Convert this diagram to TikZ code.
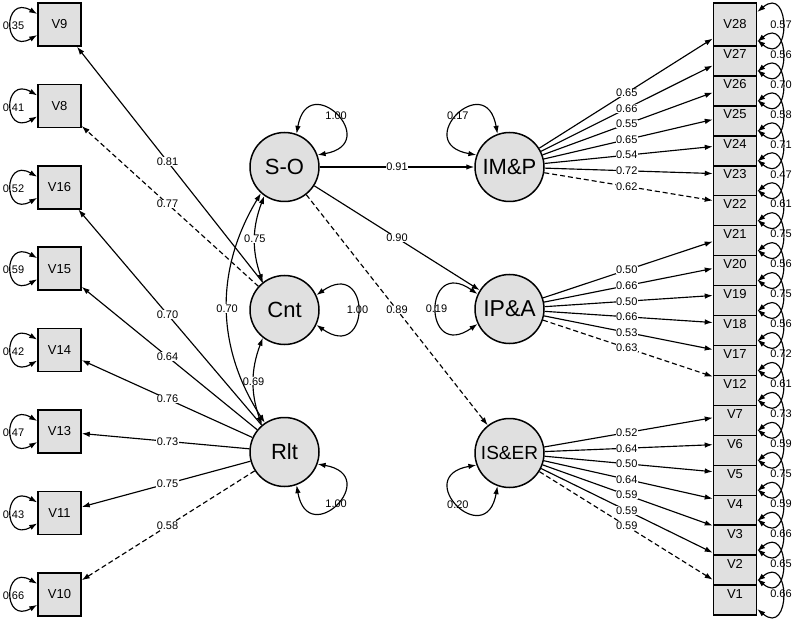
\documentclass[tikz,border=0pt]{standalone}
\usepackage{fontspec}
\setmainfont{Liberation Sans}
\usetikzlibrary{arrows.meta,calc}
\definecolor{nodefill}{RGB}{224,224,224}
\begin{document}
\begin{tikzpicture}[x=1pt,y=1pt,
  obs/.style={draw, line width=1.5pt, fill=nodefill, minimum width=43pt, minimum height=43pt, inner sep=0pt, font=\fontsize{13}{15}\selectfont},
  lat/.style={circle, draw, line width=1.5pt, fill=nodefill, minimum size=69pt, inner sep=0pt, font=\fontsize{22}{24}\selectfont},
  tipA/.tip={Latex[length=8pt,width=5.5pt]},
  load/.style={-tipA, line width=1.15pt},
  cov/.style={tipA-tipA, line width=1.15pt},
  dsh/.style={dash pattern=on 5pt off 3pt},
  elab/.style={fill=white, inner sep=0.3pt, font=\fontsize{11}{12}\selectfont},
  vlab/.style={inner sep=0pt, font=\fontsize{11}{12}\selectfont},
]
\useasboundingbox (0,0) rectangle (794,619);

% left indicators
\foreach \n/\y in {V9/594.5, V8/513.1, V16/431.7, V15/350.3, V14/268.9, V13/187.5, V11/106.1, V10/24.7}
  \node[obs] (\n) at (59.5,\y) {\n};

% right indicators (drawn bottom first so upper boxes overlap lower ones)
\foreach \n [count=\i] in {V1,V2,V3,V4,V5,V6,V7,V12,V17,V18,V19,V20,V21,V22,V23,V24,V25,V26,V27,V28}
  \node[obs] (\n) at (735,{594.5-29.95*(20-\i)}) {\n};

% latent variables
\node[lat] (SO) at (284.5,452) {S-O};
\node[lat] (Cnt) at (284.5,309) {Cnt};
\node[lat] (Rlt) at (284.5,167) {Rlt};
\node[lat] (IMP) at (509.5,452) {IM\&P};
\node[lat, font=\fontsize{23}{25}\selectfont] (IPA) at (509.5,310) {IP\&A};
\node[lat, font=\fontsize{19}{21}\selectfont] (ISER) at (509.5,166) {IS\&ER};

% loadings, left
\draw[load] (Cnt) -- (V9);
\draw[load,dsh] (Cnt) -- (V8);
\foreach \t in {V16,V15,V14,V13,V11}
  \draw[load] (Rlt) -- (\t);
\draw[load,dsh] (Rlt) -- (V10);
\node[elab] (eV9) at ($(Cnt)!0.52!(V9)$) {0.81};
\node[elab] (eV8) at ($(Cnt)!0.52!(V8)$) {0.77};
\foreach \t/\l in {V16/0.70, V15/0.64, V14/0.76, V13/0.73, V11/0.75, V10/0.58}
  \node[elab] (e\t) at ($(Rlt)!0.52!(\t)$) {\l};

% loadings, right
\foreach \t in {V28,V27,V26,V25,V24,V23}
  \draw[load] (IMP) -- (\t);
\draw[load,dsh] (IMP) -- (V22);
\foreach \t in {V21,V20,V19,V18,V17}
  \draw[load] (IPA) -- (\t);
\draw[load,dsh] (IPA) -- (V12);
\foreach \t in {V7,V6,V5,V4,V3,V2}
  \draw[load] (ISER) -- (\t);
\draw[load,dsh] (ISER) -- (V1);
\foreach \t/\l in {V28/0.65, V27/0.66, V26/0.55, V25/0.65, V24/0.54, V23/0.72, V22/0.62}
  \node[elab] (e\t) at ($(IMP)!0.52!(\t)$) {\l};
\foreach \t/\l in {V21/0.50, V20/0.66, V19/0.50, V18/0.66, V17/0.53, V12/0.63}
  \node[elab] (e\t) at ($(IPA)!0.52!(\t)$) {\l};
\foreach \t/\l in {V7/0.52, V6/0.64, V5/0.50, V4/0.64, V3/0.59, V2/0.59, V1/0.59}
  \node[elab] (e\t) at ($(ISER)!0.52!(\t)$) {\l};

% structural paths
\draw[load] (SO) -- (IMP);
\draw[load] (SO) -- (IPA);
\draw[load,dsh] (SO) -- (ISER);
\node[elab] (eIMP) at ($(SO)!0.5!(IMP)$) {0.91};
\node[elab] (eIPA) at ($(SO)!0.5!(IPA)$) {0.90};
\node[elab] (eISER) at ($(SO)!0.5!(ISER)$) {0.89};

% covariances between latent variables
\draw[cov] (SO.235) to[bend right=20] node[elab] (cSOCnt) {0.75} (Cnt.128);
\draw[cov] (Cnt.232) to[bend right=20] node[elab] (cCntRlt) {0.69} (Rlt.130);
\draw[cov] (SO.228) to[bend right=32] node[elab] (cSORlt) {0.70} (Rlt.124);

% latent variances
\draw[cov] (SO.70) to[out=80,in=10,distance=67pt] (SO.20);
\node[vlab] (vSO) at ($(SO)+(45:73)$) {1.00};
\draw[cov] (Cnt.25) to[out=35,in=-35,distance=67pt] (Cnt.-25);
\node[vlab] (vCnt) at ($(Cnt)+(0:73)$) {1.00};
\draw[cov] (Rlt.-20) to[out=-10,in=-80,distance=67pt] (Rlt.-70);
\node[vlab] (vRlt) at ($(Rlt)+(-45:73)$) {1.00};
\draw[cov] (IMP.160) to[out=170,in=100,distance=67pt] (IMP.110);
\node[vlab] (vIMP) at ($(IMP)+(135:73)$) {0.17};
\draw[cov] (IPA.155) to[out=145,in=215,distance=67pt] (IPA.205);
\node[vlab] (vIPA) at ($(IPA)+(180:73)$) {0.19};
\draw[cov] (ISER.200) to[out=190,in=260,distance=67pt] (ISER.250);
\node[vlab] (vISER) at ($(ISER)+(225:73)$) {0.20};

% residual variances, left
\foreach \n/\l in {V9/0.35, V8/0.41, V16/0.52, V15/0.59, V14/0.42, V13/0.47, V11/0.43, V10/0.66} {
  \node[vlab] (r\n) at ($(\n.center)+(-46,-1.5)$) {\l};
  \draw[cov] ([yshift=10.5pt]\n.west) to[out=150,in=210,distance=40pt] ([yshift=-10.5pt]\n.west);
}

% residual variances, right
\foreach \n/\l in {V28/0.57, V27/0.56, V26/0.70, V25/0.58, V24/0.71, V23/0.47, V22/0.61, V21/0.75, V20/0.56, V19/0.75, V18/0.56, V17/0.72, V12/0.61, V7/0.73, V6/0.59, V5/0.75, V4/0.59, V3/0.66, V2/0.65, V1/0.66} {
  \node[vlab] (r\n) at ($(\n.center)+(46,0)$) {\l};
  \draw[cov] ([yshift=12.5pt]\n.east) to[out=40,in=-40,distance=44pt] ([yshift=-15.5pt]\n.east);
}
\end{tikzpicture}
\end{document}
